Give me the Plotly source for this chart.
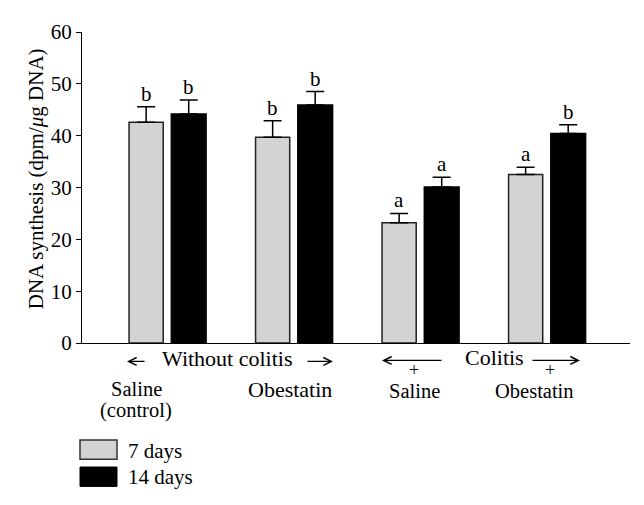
import plotly.graph_objects as go

groups = [0, 1, 2, 3]
days7 = [42.6, 39.7, 23.2, 32.5]
days7_err = [3.0, 3.2, 1.8, 1.4]
days14 = [44.2, 45.9, 30.1, 40.4]
days14_err = [2.7, 2.6, 1.9, 1.7]
letters7 = ["b", "b", "a", "a"]
letters14 = ["b", "b", "a", "b"]
yticks = [0, 10, 20, 30, 40, 50, 60]

FONT = "Liberation Serif"
FS = 21
GRAY = "#d3d3d3"

# page (screenshot) coordinates of the plot area; the page body adds an 8 px margin
OFF = 8
PL, PR, PT, PB = 82, 630, 22, 343
W, H = 644 - OFF, 505 - OFF
L, T = PL - OFF, PT - OFF
R, B = W - (PR - OFF), H - (PB - OFF)
PW = PR - PL
PH = PB - PT


def px(x):
    return (x - PL) / PW


def py(y):
    return (PB - y) / PH


fig = go.Figure()
fig.add_trace(go.Bar(
    x=groups, y=days7, offset=-0.304, width=0.27,
    marker=dict(color=GRAY, line=dict(color="#222222", width=1.5)),
    error_y=dict(type="data", symmetric=False, array=days7_err,
                 arrayminus=[0] * len(days7), color="black", thickness=1.5, width=9),
    showlegend=False,
))
fig.add_trace(go.Bar(
    x=groups, y=days14, offset=0.03, width=0.275,
    marker=dict(color="black", line=dict(color="black", width=1.5)),
    error_y=dict(type="data", symmetric=False, array=days14_err,
                 arrayminus=[0] * len(days14), color="black", thickness=1.5, width=9),
    showlegend=False,
))

ann = []
for g, v, e, t in zip(groups, days7, days7_err, letters7):
    ann.append(dict(x=g - 0.169, y=v + e, xref="x", yref="y", text=t, showarrow=False,
                    yanchor="bottom", yshift=-1, font=dict(family=FONT, size=FS, color="black")))
for g, v, e, t in zip(groups, days14, days14_err, letters14):
    ann.append(dict(x=g + 0.167, y=v + e, xref="x", yref="y", text=t, showarrow=False,
                    yanchor="bottom", yshift=-1, font=dict(family=FONT, size=FS, color="black")))

# y-axis title
ann.append(dict(x=px(22), y=py(174), xref="paper", yref="paper", showarrow=False,
                text="DNA synthesis (dpm/<i>μ</i>g DNA)", textangle=-90,
                font=dict(family=FONT, size=21, color="black")))


def label(text, x, y, size=FS):
    ann.append(dict(x=px(x), y=py(y), xref="paper", yref="paper", text=text, showarrow=False,
                    xanchor="center", yanchor="middle",
                    font=dict(family=FONT, size=size, color="black")))


label("Without colitis", 227, 359, 22)
label("Colitis", 494.5, 358, 22)
label("Saline", 136, 390, 20.5)
label("(control)", 135.5, 413, 20.5)
label("Obestatin", 290, 391, 22)
label("+", 414, 371, 18)
label("Saline", 414.5, 393, 20.5)
label("+", 550, 371, 18)
label("Obestatin", 534.5, 393, 20.5)


def arrow(x_head, x_tail, y):
    ann.append(dict(x=px(x_head), y=py(y), xref="paper", yref="paper", text="",
                    showarrow=True, ax=x_tail - x_head, ay=0, axref="pixel", ayref="pixel",
                    arrowhead=5, arrowsize=1.2, arrowwidth=1.3, arrowcolor="black",
                    standoff=0, startstandoff=0))


arrow(127, 146, 362)
arrow(333, 306, 362)
arrow(382, 443, 361)
arrow(580, 531, 361)

# legend
shapes = [
    dict(type="rect", xref="paper", yref="paper", x0=px(80), x1=px(117), y0=py(463), y1=py(443),
         fillcolor=GRAY, line=dict(color="#333333", width=1.5)),
    dict(type="rect", xref="paper", yref="paper", x0=px(80), x1=px(117), y0=py(491), y1=py(471),
         fillcolor="black", line=dict(color="black", width=1)),
]
ann.append(dict(x=px(126), y=py(454), xref="paper", yref="paper", text="7 days", showarrow=False,
                xanchor="left", yanchor="middle", font=dict(family=FONT, size=FS, color="black")))
ann.append(dict(x=px(126), y=py(481), xref="paper", yref="paper", text="14 days", showarrow=False,
                xanchor="left", yanchor="middle", font=dict(family=FONT, size=FS, color="black")))

fig.update_layout(
    width=W, height=H,
    margin=dict(l=L, r=R, t=T, b=B, pad=0),
    plot_bgcolor="white", paper_bgcolor="white",
    annotations=ann, shapes=shapes,
    xaxis=dict(range=[-0.676, 3.656], showticklabels=False, ticks="", showgrid=False,
               zeroline=False, showline=True, linecolor="black", linewidth=1.3, fixedrange=True),
    yaxis=dict(range=[0, 60], tickvals=yticks, ticks="outside", ticklen=5, tickwidth=1.3,
               tickcolor="black", showgrid=False, zeroline=False, showline=True,
               linecolor="black", linewidth=1.3,
               tickfont=dict(family=FONT, size=FS, color="black")),
    font=dict(family=FONT, color="black"),
)

fig.write_html("out.html")
